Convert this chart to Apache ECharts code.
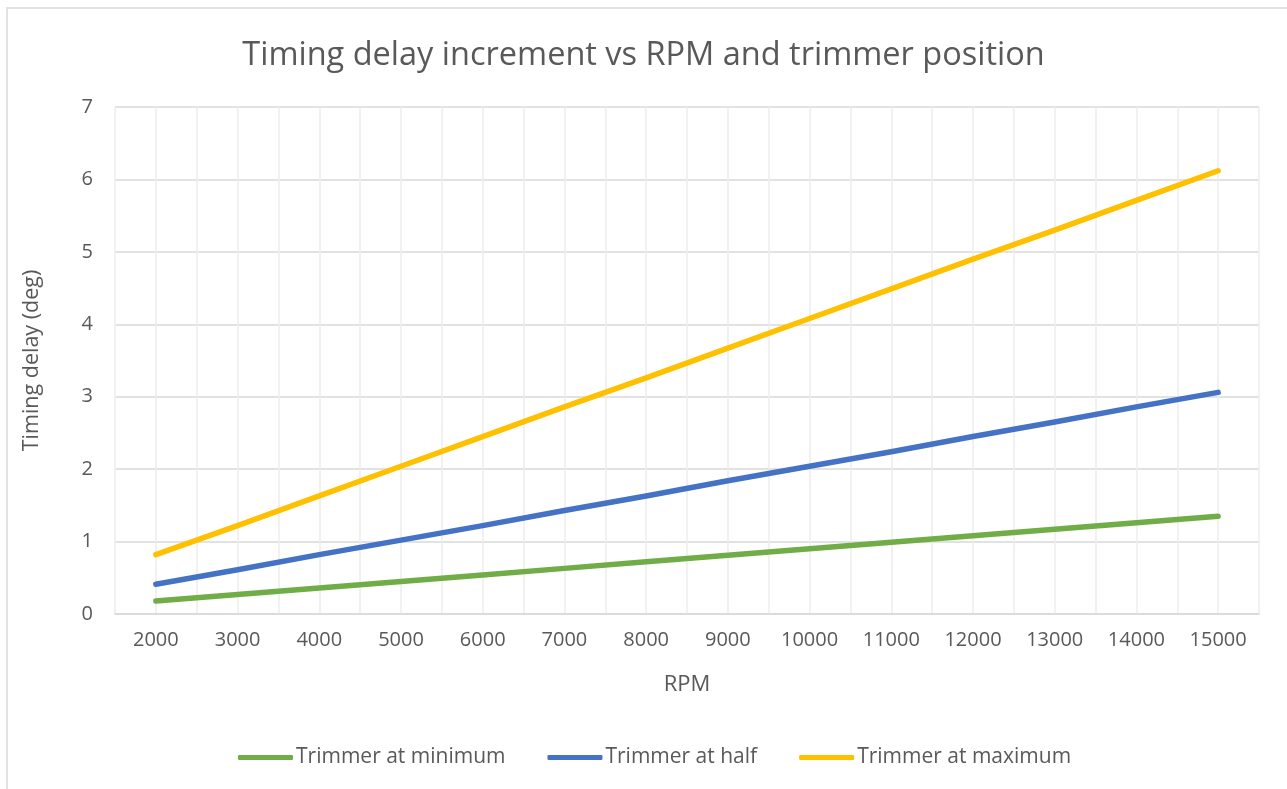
<!DOCTYPE html>
<html>
<head>
<meta charset="utf-8">
<script src="https://cdn.jsdelivr.net/npm/echarts@6/dist/echarts.min.js"></script>
<style>
html,body{margin:0;padding:0;background:#fff;}
#chart{width:1287px;height:789px;}
</style>
</head>
<body>
<div id="chart"></div>
<script>
const rpm = [2000,3000,4000,5000,6000,7000,8000,9000,10000,11000,12000,13000,14000,15000];
const trimMin = [0.18,0.27,0.36,0.45,0.54,0.63,0.72,0.81,0.90,0.99,1.08,1.17,1.26,1.35];
const trimHalf = [0.41,0.61,0.82,1.02,1.22,1.43,1.63,1.84,2.04,2.24,2.45,2.65,2.86,3.06];
const trimMax = [0.82,1.22,1.63,2.04,2.45,2.86,3.26,3.67,4.08,4.49,4.90,5.30,5.71,6.12];
const seriesNames = ['Trimmer at minimum','Trimmer at half','Trimmer at maximum'];
const colors = ['#70AD47','#4472C4','#FFC000'];

const font = '"Open Sans", "Liberation Sans", sans-serif';
const chart = echarts.init(document.getElementById('chart'));
const pairs = arr => rpm.map((x,i)=>[x,arr[i]]);
chart.setOption({
  animation:false,
  title:{text:'Timing delay increment vs RPM and trimmer position',left:'center',top:34,
    textStyle:{fontFamily:font,fontSize:32.5,fontWeight:'normal',color:'#595959'}},
  graphic:[{type:'rect',shape:{x:7,y:8,width:1400,height:900},style:{fill:null,stroke:'#d9d9d9',lineWidth:1.5},silent:true}],
  grid:{left:115,right:28,top:107,bottom:175,containLabel:false},
  legend:{bottom:16,left:233,itemWidth:55,itemHeight:5,itemGap:42,icon:'roundRect',
    textStyle:{fontFamily:font,fontSize:21,color:'#595959',padding:[0,0,0,-2]},
    data:seriesNames},
  xAxis:{type:'value',min:1500,max:15500,interval:500,
    name:'RPM',nameLocation:'middle',nameGap:60,
    nameTextStyle:{fontFamily:font,fontSize:22,color:'#595959'},
    axisLine:{show:true,lineStyle:{color:'#d9d9d9',width:1.5}},
    axisTick:{show:false},
    splitLine:{show:true,lineStyle:{color:'#ececec',width:1.5}},
    axisLabel:{fontFamily:font,fontSize:20,color:'#595959',margin:16,
      formatter:v=>(v%1000===0 && v>=2000 && v<=15000)?String(v):''}},
  yAxis:{type:'value',min:0,max:7,interval:1,
    name:'Timing delay (deg)',nameLocation:'middle',nameGap:72,nameRotate:90,
    nameTextStyle:{fontFamily:font,fontSize:21.5,color:'#595959'},
    axisLine:{show:false},axisTick:{show:false},
    splitLine:{show:true,lineStyle:{color:'#d9d9d9',width:1.5}},
    axisLabel:{fontFamily:font,fontSize:20,color:'#595959',margin:22}},
  series:[trimMin,trimHalf,trimMax].map((arr,i)=>({
    name:seriesNames[i],type:'line',data:pairs(arr),showSymbol:false,symbol:'none',
    color:colors[i],
    lineStyle:{width:5.5,color:colors[i],cap:'round',join:'round'}
  }))
});
</script>
</body>
</html>
